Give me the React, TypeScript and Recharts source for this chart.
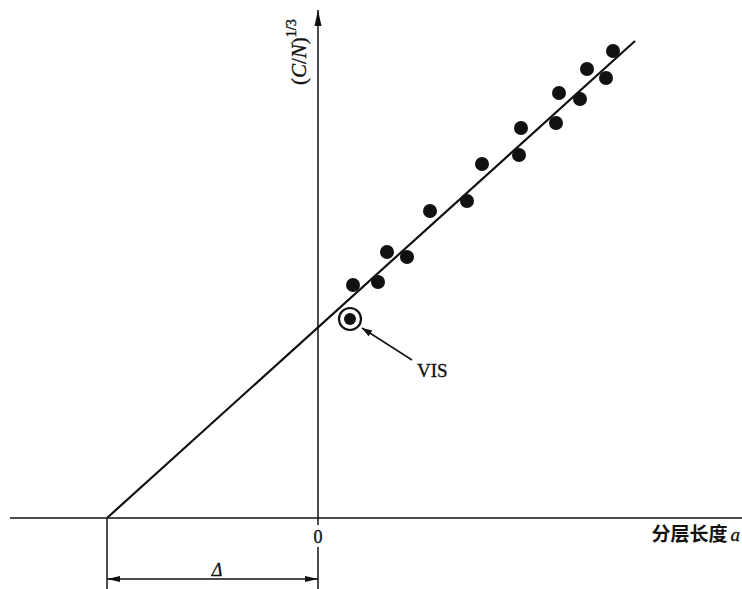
import React from "react";
import {
  ComposedChart,
  XAxis,
  YAxis,
  Scatter,
  Line,
  ReferenceLine,
  ReferenceDot,
} from "recharts";

// measured points (a, (C/N)^(1/3)) in arbitrary units
const samplePoints = [
  { x: 3.5, y: 23.3 },
  { x: 6.0, y: 23.6 },
  { x: 6.9, y: 26.6 },
  { x: 8.9, y: 26.1 },
  { x: 11.2, y: 30.7 },
  { x: 14.9, y: 31.7 },
  { x: 16.4, y: 35.4 },
  { x: 20.1, y: 36.3 },
  { x: 20.3, y: 39.0 },
  { x: 23.8, y: 39.5 },
  { x: 24.1, y: 42.5 },
  { x: 26.2, y: 41.9 },
  { x: 26.9, y: 44.9 },
  { x: 28.8, y: 44.0 },
  { x: 29.5, y: 46.7 },
];
const visPoint = [{ x: 3.2, y: 19.9 }];
const fitLine = [
  { x: -21.1, y: 0 },
  { x: 31.7, y: 47.7 },
];
const deltaX = -21.1;

const X_DOMAIN: [number, number] = [-31.8, 42.4];
const Y_DOMAIN: [number, number] = [-7.1, 51.8];
const INK = "#111";
const SERIF = "'Liberation Serif', 'Times New Roman', serif";

function head(tx: number, ty: number, fx: number, fy: number, len: number, half: number) {
  const dx = tx - fx;
  const dy = ty - fy;
  const d = Math.hypot(dx, dy) || 1;
  const ux = dx / d;
  const uy = dy / d;
  const bx = tx - ux * len;
  const by = ty - uy * len;
  return `${tx},${ty} ${bx - uy * half},${by + ux * half} ${bx + uy * half},${by - ux * half}`;
}

const arrowLine =
  (start: boolean, end: boolean, len = 12, half = 3, width = 1.5) =>
  (p: any) => (
    <g>
      <line x1={p.x1} y1={p.y1} x2={p.x2} y2={p.y2} stroke={INK} strokeWidth={width} />
      {start && <polygon points={head(p.x1, p.y1, p.x2, p.y2, len, half)} fill={INK} />}
      {end && <polygon points={head(p.x2, p.y2, p.x1, p.y1, len, half)} fill={INK} />}
    </g>
  );

const plainLine = (width = 1.5) => arrowLine(false, false, 0, 0, width);

const dot = (p: any) => <circle cx={p.cx} cy={p.cy} r={7} fill={INK} />;

const visMark = (p: any) => (
  <g>
    <circle cx={p.cx} cy={p.cy} r={11} fill="#fff" stroke={INK} strokeWidth={2.2} />
    <circle cx={p.cx} cy={p.cy} r={6} fill={INK} />
  </g>
);

const textAt =
  (content: React.ReactNode, extra: Record<string, any> = {}) =>
  (p: any) => (
    <text
      x={p.cx}
      y={p.cy}
      fill={INK}
      stroke={INK}
      strokeWidth={0.35}
      fontFamily={SERIF}
      {...extra}
    >
      {content}
    </text>
  );

const yTitle = (p: any) => (
  <text
    x={p.cx}
    y={p.cy}
    transform={`rotate(-90 ${p.cx} ${p.cy})`}
    fill={INK}
    stroke={INK}
    strokeWidth={0.35}
    fontFamily={SERIF}
    fontSize={21}
  >
    (<tspan fontStyle="italic">C</tspan>/<tspan fontStyle="italic">N</tspan>)
    <tspan fontSize={14} dy={-10}>
      1/3
    </tspan>
  </text>
);

const xTitle = (p: any) => (
  <text x={p.cx} y={p.cy} fill={INK} textAnchor="end" fontSize={19}>
    <tspan fontFamily="'Noto Sans CJK SC', sans-serif" fontWeight={700}>
      分层长度
    </tspan>
    <tspan fontFamily={SERIF} fontStyle="italic" dx={3} stroke={INK} strokeWidth={0.35}>
      a
    </tspan>
  </text>
);

export default function App() {
  return (
    <div style={{ position: "absolute", left: 0, top: 0, background: "#fff" }}>
      <ComposedChart
        width={742}
        height={589}
        margin={{ top: 0, right: 0, bottom: 0, left: 0 }}
      >
        <XAxis dataKey="x" type="number" domain={X_DOMAIN} allowDataOverflow hide />
        <YAxis dataKey="y" type="number" domain={Y_DOMAIN} allowDataOverflow hide />

        {/* axes */}
        <ReferenceLine segment={[{ x: -30.8, y: 0 }, { x: 42.4, y: 0 }]} shape={plainLine(1.5)} />
        <ReferenceLine
          segment={[{ x: 0, y: -0.7 }, { x: 0, y: 50.8 }]}
          shape={arrowLine(false, true, 16, 3.5, 1.5)}
        />
        <ReferenceLine segment={[{ x: 0, y: -2.9 }, { x: 0, y: -7.1 }]} shape={plainLine(1.5)} />

        {/* intercept dimension */}
        <ReferenceLine segment={[{ x: deltaX, y: 0 }, { x: deltaX, y: -7.1 }]} shape={plainLine(1.5)} />
        <ReferenceLine
          segment={[{ x: deltaX, y: -6.1 }, { x: 0, y: -6.1 }]}
          shape={arrowLine(true, true, 13, 3, 1.3)}
        />

        <Line
          data={fitLine}
          dataKey="y"
          stroke={INK}
          strokeWidth={2.2}
          dot={false}
          activeDot={false}
          isAnimationActive={false}
        />
        <Scatter data={samplePoints} shape={dot} isAnimationActive={false} />
        <Scatter data={visPoint} shape={visMark} isAnimationActive={false} />

        <ReferenceLine
          segment={[{ x: 9.4, y: 15.8 }, { x: 4.4, y: 19.0 }]}
          shape={arrowLine(false, true, 10, 3.5, 1.5)}
        />

        <ReferenceDot x={9.9} y={14.1} shape={textAt("VIS", { fontSize: 19 })} />
        <ReferenceDot x={0} y={-2.5} shape={textAt("0", { fontSize: 18, textAnchor: "middle" })} />
        <ReferenceDot
          x={-10.1}
          y={-5.8}
          shape={textAt("Δ", { fontSize: 18, fontStyle: "italic", textAnchor: "middle" })}
        />
        <ReferenceDot x={42.2} y={-2.3} shape={xTitle} />
        <ReferenceDot x={-1.2} y={43.3} shape={yTitle} />
      </ComposedChart>
    </div>
  );
}
